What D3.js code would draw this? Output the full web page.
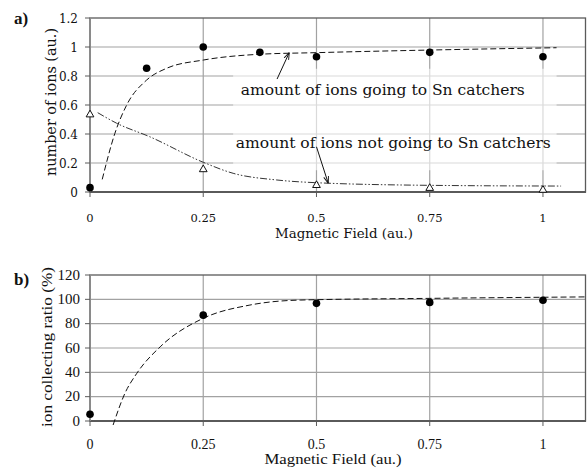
<!DOCTYPE html>
<html>
<head>
<meta charset="utf-8">
<script src="https://cdn.jsdelivr.net/npm/d3@7"></script>
<style>
  html, body { margin: 0; padding: 0; background: #fff; }
  svg { display: block; }
  text { fill: #111; }
</style>
</head>
<body>
<svg id="chart" width="587" height="468"></svg>
<script>
// ── Data ─────────────────────────────────────────────────────────────────────

const xTicks = [0, 0.25, 0.5, 0.75, 1];
const xTickLabels = ['0', '0.25', '0.5', '0.75', '1'];

// panel a) number of ions
const aYTicks = [0, 0.2, 0.4, 0.6, 0.8, 1, 1.2];
const aYTickLabels = ['0', '0.2', '0.4', '0.6', '0.8', '1', '1.2'];
const goingX = [0, 0.125, 0.25, 0.375, 0.5, 0.75, 1];
const goingY = [0.03, 0.853, 1.0, 0.963, 0.933, 0.963, 0.933];
const notGoingX = [0, 0.25, 0.5, 0.75, 1];
const notGoingY = [0.53, 0.152, 0.043, 0.023, 0.01];
// fitted trend lines as drawn in the figure
const goingFit = [[0.027, 0.087], [0.055, 0.405], [0.081, 0.6], [0.125, 0.772], [0.169, 0.853],
                  [0.25, 0.91], [0.375, 0.95], [0.5, 0.961], [0.75, 0.979], [1.03, 0.995]];
const notGoingFit = [[0.017, 0.547], [0.059, 0.474], [0.132, 0.381], [0.25, 0.205], [0.316, 0.129],
                     [0.412, 0.083], [0.5, 0.064], [0.75, 0.046], [1.04, 0.041]];

// panel b) ion collecting ratio
const bYTicks = [0, 20, 40, 60, 80, 100, 120];
const bYTickLabels = ['0', '20', '40', '60', '80', '100', '120'];
const ratioX = [0, 0.25, 0.5, 0.75, 1];
const ratioY = [5.5, 87, 96.7, 97.5, 99.2];
const ratioFit = [[0.051, -3.3], [0.077, 22.7], [0.103, 39], [0.155, 61], [0.25, 84.4],
                  [0.353, 95.3], [0.464, 99.4], [0.75, 100.8], [1.095, 102]];

// ── Layout ────────────────────────────────────────────────────────────────────

const svg = d3.select('#chart');
const X0 = 90, X1 = 586;
const GRID = '#a2a2a2', FRAME = '#5a5a5a';
const WIDE = '"DejaVu Serif", serif';          // Century-like face used in panel a
const TIMES = '"Liberation Serif", serif';     // Times-like face used in panel b

const x = d3.scaleLinear().domain([0, 1.095]).range([X0, X1]);
const yA = d3.scaleLinear().domain([0, 1.2]).range([192, 18]);
const yB = d3.scaleLinear().domain([0, 120]).range([421, 275]);

function drawFrame(g, y, yTicks, yLabels, opts) {
  const [yBot, yTop] = y.range();
  // horizontal grid
  g.selectAll('line.hgrid').data(yTicks.slice(1, -1)).enter().append('line')
    .attr('x1', X0).attr('x2', X1).attr('y1', d => y(d)).attr('y2', d => y(d))
    .attr('stroke', GRID).attr('stroke-width', 1.2);
  // vertical grid
  g.selectAll('line.vgrid').data(xTicks.slice(1)).enter().append('line')
    .attr('x1', d => x(d)).attr('x2', d => x(d)).attr('y1', yTop).attr('y2', yBot)
    .attr('stroke', GRID).attr('stroke-width', 1.2);

  if (opts.box) opts.box(g);

  // border
  g.append('rect').attr('x', X0).attr('y', yTop).attr('width', X1 - X0 - 0.5).attr('height', yBot - yTop)
    .attr('fill', 'none').attr('stroke', FRAME).attr('stroke-width', 1.3);
  g.append('line').attr('x1', X0).attr('x2', X1).attr('y1', yBot).attr('y2', yBot)
    .attr('stroke', FRAME).attr('stroke-width', 2);
  g.append('line').attr('x1', X0).attr('x2', X0).attr('y1', yTop).attr('y2', yBot)
    .attr('stroke', '#8a8a8a').attr('stroke-width', 2);

  // ticks
  g.selectAll('line.ytick').data(yTicks).enter().append('line')
    .attr('x1', X0 - 5).attr('x2', X0).attr('y1', d => y(d)).attr('y2', d => y(d))
    .attr('stroke', FRAME).attr('stroke-width', 1);
  g.selectAll('line.xtick').data(xTicks).enter().append('line')
    .attr('x1', d => x(d)).attr('x2', d => x(d)).attr('y1', yBot).attr('y2', yBot + 5)
    .attr('stroke', FRAME).attr('stroke-width', 1);

  // tick labels
  g.selectAll('text.ylab').data(yTicks).enter().append('text')
    .attr('x', opts.yLabX).attr('y', d => y(d) + 4.5)
    .attr('text-anchor', 'end').attr('font-family', opts.font).attr('font-size', opts.yFont)
    .text((d, i) => yLabels[i]);
  g.selectAll('text.xlab').data(xTicks).enter().append('text')
    .attr('x', d => x(d)).attr('y', opts.xLabY)
    .attr('text-anchor', 'middle').attr('font-family', opts.font).attr('font-size', opts.xFont)
    .text((d, i) => xTickLabels[i]);

  // axis titles (stretched to the widths seen in the figure)
  g.append('text').attr('x', opts.xTitleX).attr('y', opts.xTitleY)
    .attr('text-anchor', 'middle').attr('font-family', opts.font).attr('font-size', opts.xTitleFont)
    .attr('textLength', opts.xTitleLen).attr('lengthAdjust', 'spacingAndGlyphs')
    .text('Magnetic Field (au.)');
  g.append('text')
    .attr('transform', `translate(${opts.yTitleX},${opts.yTitleY}) rotate(-90)`)
    .attr('text-anchor', 'middle').attr('font-family', opts.font).attr('font-size', opts.yTitleFont)
    .attr('textLength', opts.yTitleLen).attr('lengthAdjust', 'spacingAndGlyphs')
    .text(opts.yTitle);
  g.append('text').attr('x', 14).attr('y', opts.tagY).attr('font-family', TIMES)
    .attr('font-size', 17).attr('font-weight', 'bold').text(opts.tag);
}

const defs = svg.append('defs');
defs.append('marker').attr('id', 'arrow').attr('viewBox', '0 0 10 10')
  .attr('refX', 10).attr('refY', 5).attr('markerWidth', 7).attr('markerHeight', 7)
  .attr('orient', 'auto')
  .append('path').attr('d', 'M0,1.5 L10,5 L0,8.5').attr('fill', 'none').attr('stroke', '#111').attr('stroke-width', 1.3);

// ── Panel a ──────────────────────────────────────────────────────────────────

const gA = svg.append('g');
drawFrame(gA, yA, aYTicks, aYTickLabels, {
  font: WIDE, yFont: 12, xFont: 11.5, yLabX: 78, xLabY: 222,
  xTitleX: 344, xTitleY: 238, xTitleFont: 13, xTitleLen: 138,
  yTitleX: 56, yTitleY: 102, yTitleFont: 14.5, yTitleLen: 148, yTitle: 'number of ions (au.)',
  tagY: 24, tag: 'a)',
  box: g => g.append('rect').attr('x', x(0.316)).attr('y', yA(0.85))
    .attr('width', x(1.03) - x(0.316)).attr('height', yA(0.15) - yA(0.85))
    .attr('fill', '#fff').attr('opacity', 0.6)
});

const lineA = d3.line().x(d => x(d[0])).y(d => yA(d[1])).curve(d3.curveMonotoneX);
gA.append('path').attr('d', lineA(goingFit)).attr('fill', 'none')
  .attr('stroke', '#111').attr('stroke-width', 1).attr('stroke-dasharray', '6,3');
gA.append('path').attr('d', lineA(notGoingFit)).attr('fill', 'none')
  .attr('stroke', '#333').attr('stroke-width', 1).attr('stroke-dasharray', '7,2,1.5,2,1.5,2');

gA.selectAll('circle.going').data(goingX).enter().append('circle')
  .attr('cx', d => x(d)).attr('cy', (d, i) => yA(goingY[i])).attr('r', 3.8).attr('fill', '#000');
gA.selectAll('path.notgoing').data(notGoingX).enter().append('path')
  .attr('d', d3.symbol(d3.symbolTriangle, 26))
  .attr('transform', (d, i) => `translate(${x(d)},${yA(notGoingY[i]) - 0.5})`)
  .attr('fill', '#fff').attr('stroke', '#111').attr('stroke-width', 1);

// annotations
gA.append('text').attr('x', x(0.333)).attr('y', yA(0.669))
  .attr('font-family', WIDE).attr('font-size', 14.5)
  .attr('textLength', 284).attr('lengthAdjust', 'spacingAndGlyphs')
  .text('amount of ions going to Sn catchers');
gA.append('text').attr('x', x(0.322)).attr('y', yA(0.303))
  .attr('font-family', WIDE).attr('font-size', 14.5)
  .attr('textLength', 315).attr('lengthAdjust', 'spacingAndGlyphs')
  .text('amount of ions not going to Sn catchers');
gA.append('line').attr('x1', x(0.413)).attr('y1', yA(0.779)).attr('x2', x(0.44)).attr('y2', yA(0.962))
  .attr('stroke', '#111').attr('stroke-width', 1).attr('marker-end', 'url(#arrow)');
gA.append('line').attr('x1', x(0.5)).attr('y1', yA(0.312)).attr('x2', x(0.526)).attr('y2', yA(0.06))
  .attr('stroke', '#111').attr('stroke-width', 1).attr('marker-end', 'url(#arrow)');

// ── Panel b ──────────────────────────────────────────────────────────────────

const gB = svg.append('g');
drawFrame(gB, yB, bYTicks, bYTickLabels, {
  font: TIMES, yFont: 15, xFont: 14, yLabX: 80, xLabY: 449,
  xTitleX: 333, xTitleY: 464, xTitleFont: 15, xTitleLen: 137,
  yTitleX: 52, yTitleY: 347, yTitleFont: 15.5, yTitleLen: 160, yTitle: 'ion collecting ratio (%)',
  tagY: 285, tag: 'b)'
});

const lineB = d3.line().x(d => x(d[0])).y(d => yB(d[1])).curve(d3.curveMonotoneX);
gB.append('path').attr('d', lineB(ratioFit)).attr('fill', 'none')
  .attr('stroke', '#111').attr('stroke-width', 1).attr('stroke-dasharray', '6,3');
gB.selectAll('circle.ratio').data(ratioX).enter().append('circle')
  .attr('cx', d => x(d)).attr('cy', (d, i) => yB(ratioY[i])).attr('r', 3.8).attr('fill', '#000');
</script>
</body>
</html>
